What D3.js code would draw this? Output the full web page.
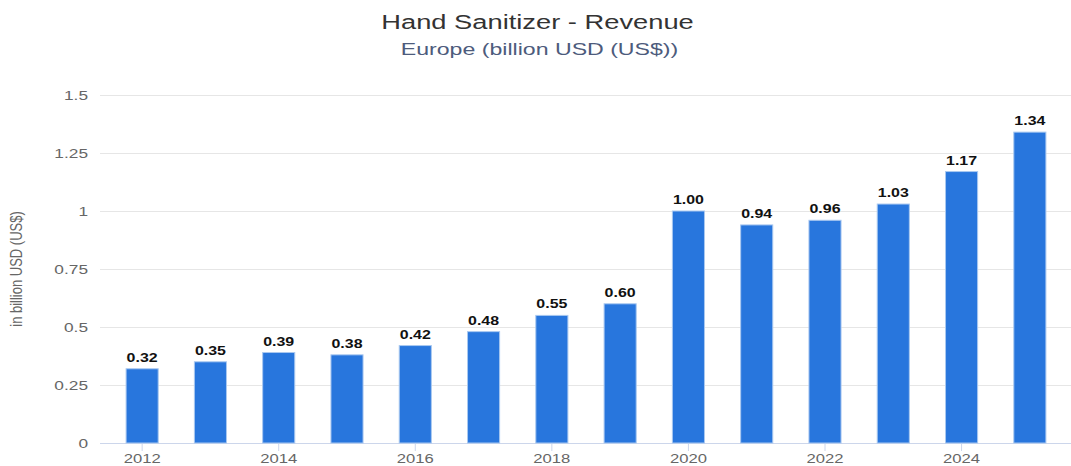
<!DOCTYPE html>
<html>
<head>
<meta charset="utf-8">
<script src="https://cdn.jsdelivr.net/npm/d3@7"></script>
<style>
  body { margin: 0; background: #fff; }
  text { font-family: "Liberation Sans", Arial, Helvetica, sans-serif; }
</style>
</head>
<body>
<div id="container"></div>
<script>
const years = [2012, 2013, 2014, 2015, 2016, 2017, 2018, 2019, 2020, 2021, 2022, 2023, 2024, 2025];
const revenue = [0.32, 0.35, 0.39, 0.38, 0.42, 0.48, 0.55, 0.60, 1.00, 0.94, 0.96, 1.03, 1.17, 1.34];
const yTicks = [0, 0.25, 0.5, 0.75, 1, 1.25, 1.5];
const xTickYears = [2012, 2014, 2016, 2018, 2020, 2022, 2024];

const w = 1071;
const h = 466;
const stretch = 1.33; // reference text looks widened horizontally

const svg = d3.select("#container")
              .append("svg")
              .attr("width", w)
              .attr("height", h);

const xScale = d3.scaleBand()
                 .domain(years)
                 .range([108, 1064])
                 .paddingInner(0.53)
                 .paddingOuter(0.265);

const yScale = d3.scaleLinear()
                 .domain([0, 1.5])
                 .range([443, 95]);

// gridlines
svg.append("g")
   .selectAll("line")
   .data(yTicks)
   .enter()
   .append("line")
   .attr("x1", 100)
   .attr("x2", w)
   .attr("y1", d => Math.round(yScale(d)) + 0.5)
   .attr("y2", d => Math.round(yScale(d)) + 0.5)
   .attr("stroke", d => d === 0 ? "#ccd6eb" : "#e6e6e6")
   .attr("stroke-width", 1);

// y axis labels
const yAxis = d3.axisLeft(yScale)
                .tickValues(yTicks)
                .tickSize(0)
                .tickPadding(0)
                .tickFormat(d => String(d));

svg.append("g")
   .attr("transform", "translate(88,0)")
   .call(yAxis)
   .call(g => g.select(".domain").remove())
   .selectAll("text")
   .attr("x", 0)
   .attr("transform", "scale(" + stretch + ",1)")
   .attr("fill", "#666")
   .attr("font-size", "13px")
   .attr("dy", "0.35em");

// x axis
const xAxis = d3.axisBottom(xScale)
                .tickValues(xTickYears)
                .tickSize(8)
                .tickPadding(3)
                .tickFormat(d3.format("d"));

svg.append("g")
   .attr("transform", "translate(0,443)")
   .call(xAxis)
   .call(g => g.select(".domain").remove())
   .call(g => g.selectAll("line").attr("stroke", "#ccd6eb"))
   .selectAll("text")
   .attr("transform", "scale(1.28,1)")
   .attr("fill", "#666")
   .attr("font-size", "13px");

// bars
svg.append("g")
   .selectAll("rect")
   .data(years)
   .enter()
   .append("rect")
   .attr("x", d => xScale(d))
   .attr("y", (d, i) => yScale(revenue[i]))
   .attr("width", xScale.bandwidth())
   .attr("height", (d, i) => yScale(0) - yScale(revenue[i]))
   .attr("fill", "#2876dd")
   .attr("stroke", "#a9c8f0")
   .attr("stroke-width", 1);

// value labels
svg.append("g")
   .selectAll("text")
   .data(years)
   .enter()
   .append("text")
   .attr("transform", (d, i) => "translate(" + (xScale(d) + xScale.bandwidth() / 2) + "," + (yScale(revenue[i]) - 7) + ") scale(" + stretch + ",1)")
   .attr("text-anchor", "middle")
   .attr("font-size", "12px")
   .attr("font-weight", "bold")
   .attr("fill", "#111")
   .text((d, i) => revenue[i].toFixed(2));

// titles
svg.append("text")
   .attr("transform", "translate(" + (w / 2 + 2) + ",29) scale(1.3,1)")
   .attr("text-anchor", "middle")
   .attr("font-size", "21px")
   .attr("fill", "#333")
   .text("Hand Sanitizer - Revenue");

svg.append("text")
   .attr("transform", "translate(" + (w / 2 + 4) + ",55) scale(1.36,1)")
   .attr("text-anchor", "middle")
   .attr("font-size", "17px")
   .attr("fill", "#4d5b7c")
   .text("Europe (billion USD (US$))");

svg.append("text")
   .attr("transform", "translate(22,269) scale(" + stretch + ",1) rotate(-90)")
   .attr("text-anchor", "middle")
   .attr("font-size", "13px")
   .attr("fill", "#666")
   .text("in billion USD (US$)");
</script>
</body>
</html>
